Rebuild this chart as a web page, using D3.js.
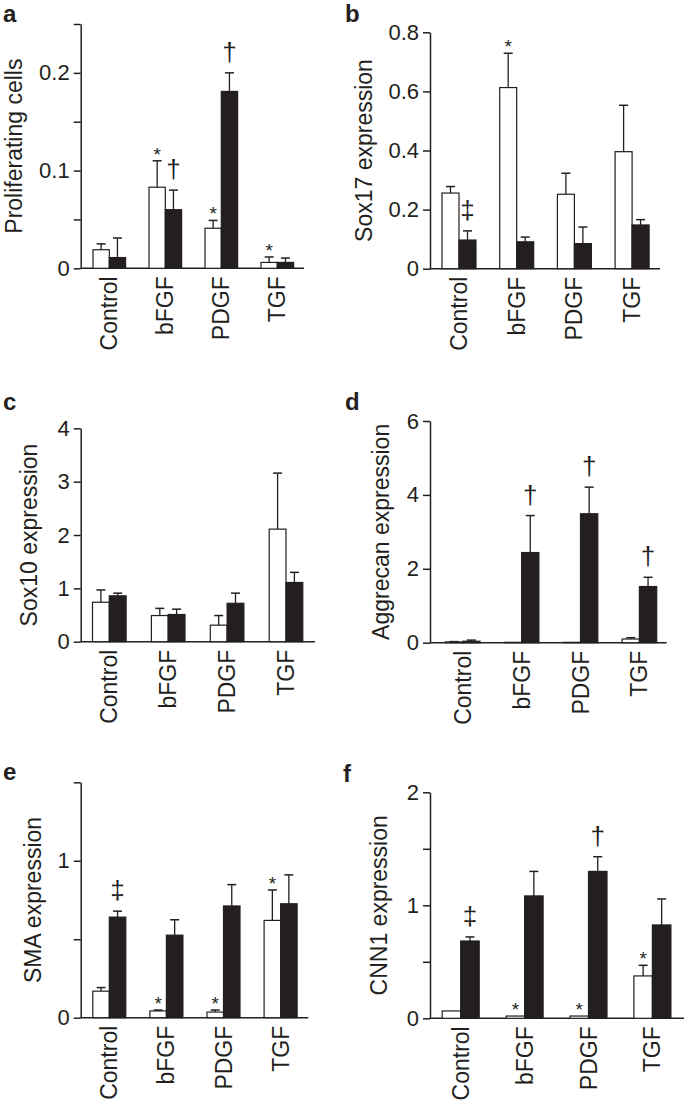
<!DOCTYPE html>
<html><head><meta charset="utf-8">
<script src="https://cdn.jsdelivr.net/npm/d3@7"></script>
<style>
body{margin:0;background:#fff}
svg{display:block}
text{font-family:"Liberation Sans",Arial,Helvetica,sans-serif;fill:#231f20}
</style>
</head><body>
<svg id="chart" width="685" height="1103"></svg>
<script>
// ---------- data ----------
const categories = ["Control", "bFGF", "PDGF", "TGF"];
const seriesNames = ["open", "filled"];

// a: Proliferating cells
const aOpenMean   = [0.019, 0.083, 0.041, 0.006];
const aOpenSE     = [0.006, 0.027, 0.008, 0.0056];
const aFilledMean = [0.011, 0.060, 0.181, 0.006];
const aFilledSE   = [0.020, 0.020, 0.019, 0.0045];
const aTicks  = [0, 0.05, 0.1, 0.15, 0.2, 0.25];
const aLabels = [0, 0.1, 0.2];
const aMarks  = [["bFGF","open","*"],["bFGF","filled","†"],["PDGF","open","*"],["PDGF","filled","†"],["TGF","open","*"]];

// b: Sox17 expression
const bOpenMean   = [0.256, 0.613, 0.252, 0.396];
const bOpenSE     = [0.022, 0.116, 0.071, 0.157];
const bFilledMean = [0.097, 0.091, 0.085, 0.148];
const bFilledSE   = [0.031, 0.016, 0.056, 0.018];
const bTicks  = [0, 0.2, 0.4, 0.6, 0.8];
const bLabels = [0, 0.2, 0.4, 0.6, 0.8];
const bMarks  = [["Control","filled","‡"],["bFGF","open","*"]];

// c: Sox10 expression
const cOpenMean   = [0.74, 0.49, 0.31, 2.11];
const cOpenSE     = [0.23, 0.135, 0.18, 1.05];
const cFilledMean = [0.86, 0.51, 0.72, 1.11];
const cFilledSE   = [0.05, 0.10, 0.19, 0.19];
const cTicks  = [0, 1, 2, 3, 4];
const cLabels = [0, 1, 2, 3, 4];
const cMarks  = [];

// d: Aggrecan expression
const dOpenMean   = [0.02, 0.01, 0.01, 0.10];
const dOpenSE     = [0.01, 0, 0, 0.035];
const dFilledMean = [0.04, 2.44, 3.49, 1.52];
const dFilledSE   = [0.03, 1.00, 0.72, 0.25];
const dTicks  = [0, 2, 4, 6];
const dLabels = [0, 2, 4, 6];
const dMarks  = [["bFGF","filled","†"],["PDGF","filled","†"],["TGF","filled","†"]];

// e: SMA expression
const eOpenMean   = [0.169, 0.043, 0.036, 0.62];
const eOpenSE     = [0.023, 0.006, 0.013, 0.194];
const eFilledMean = [0.641, 0.526, 0.712, 0.726];
const eFilledSE   = [0.038, 0.098, 0.136, 0.184];
const eTicks  = [0, 0.5, 1, 1.5];
const eLabels = [0, 1];
const eMarks  = [["Control","filled","‡"],["bFGF","open","*"],["PDGF","open","*"],["TGF","open","*"]];

// f: CNN1 expression
const fOpenMean   = [0.065, 0.02, 0.02, 0.375];
const fOpenSE     = [0, 0, 0, 0.094];
const fFilledMean = [0.684, 1.083, 1.30, 0.826];
const fFilledSE   = [0.036, 0.217, 0.13, 0.23];
const fTicks  = [0, 0.5, 1, 1.5, 2];
const fLabels = [0, 1, 2];
const fMarks  = [["Control","filled","‡"],["bFGF","open","*"],["PDGF","open","*"],["PDGF","filled","†"],["TGF","open","*"]];

// ---------- layout ----------
const panels = [
  {letter:"a", title:"Proliferating cells", yMax:0.25, ticks:aTicks, labels:aLabels, open:[aOpenMean,aOpenSE], filled:[aFilledMean,aFilledSE], marks:aMarks,
   x0:80.7, x1:304, top:24, base:268.3, c0:109.3, step:56, bw:16.3, titleDx:-66.7, lx:3, ly:22},
  {letter:"b", title:"Sox17 expression", yMax:0.8, ticks:bTicks, labels:bLabels, open:[bOpenMean,bOpenSE], filled:[bFilledMean,bFilledSE], marks:bMarks,
   x0:430, x1:660, top:32.3, base:268.7, c0:459, step:57.7, bw:17, titleDx:-66, lx:345, ly:22},
  {letter:"c", title:"Sox10 expression", yMax:4, ticks:cTicks, labels:cLabels, open:[cOpenMean,cOpenSE], filled:[cFilledMean,cFilledSE], marks:cMarks,
   x0:80.7, x1:315, top:428.3, base:641.7, c0:109.3, step:58.9, bw:16.8, titleDx:-51.7, lx:3, ly:410},
  {letter:"d", title:"Aggrecan expression", yMax:6, ticks:dTicks, labels:dLabels, open:[dOpenMean,dOpenSE], filled:[dFilledMean,dFilledSE], marks:dMarks,
   x0:430, x1:666.7, top:421, base:642.7, c0:462.7, step:58.9, bw:17.3, titleDx:-49, lx:345, ly:410},
  {letter:"e", title:"SMA expression", yMax:1.5, ticks:eTicks, labels:eLabels, open:[eOpenMean,eOpenSE], filled:[eFilledMean,eFilledSE], marks:eMarks,
   x0:80.7, x1:308.3, top:782.3, base:1017.7, c0:109.3, step:57.1, bw:16.5, titleDx:-47.7, lx:3, ly:780},
  {letter:"f", title:"CNN1 expression", yMax:2, ticks:fTicks, labels:fLabels, open:[fOpenMean,fOpenSE], filled:[fFilledMean,fFilledSE], marks:fMarks,
   x0:430, x1:684, top:792.3, base:1018.3, c0:460.7, step:63.9, bw:18.5, titleDx:-51, lx:343, ly:782}
];

const INK = "#231f20";
const svg = d3.select("#chart");

panels.forEach(p => {
  const g = svg.append("g").attr("class", "panel-" + p.letter);
  const y = d3.scaleLinear().domain([0, p.yMax]).range([p.base, p.top]);
  const pad = 1 - 2 * p.bw / p.step;
  const x = d3.scaleBand().domain(categories)
    .range([p.c0 - p.step / 2, p.c0 + 3.5 * p.step])
    .paddingInner(pad).paddingOuter(pad / 2);
  const xs = d3.scaleBand().domain(seriesNames).range([0, x.bandwidth()]);

  // y axis
  const axis = d3.axisLeft(y).tickValues(p.ticks).tickSize(7).tickSizeOuter(0).tickPadding(4)
    .tickFormat(v => p.labels.includes(v) ? (v === 0 ? "0" : String(v)) : "");
  const ga = g.append("g").attr("transform", `translate(${p.x0},0)`).call(axis);
  ga.select(".domain").attr("stroke", INK).attr("stroke-width", 1.5);
  ga.selectAll(".tick line").attr("stroke", INK).attr("stroke-width", 1.5);
  ga.selectAll(".tick text").attr("font-size", 22).attr("fill", INK)
    .style("font-family", '"Liberation Sans",Arial,Helvetica,sans-serif');

  // x axis baseline
  g.append("line").attr("x1", p.x0).attr("x2", p.x1).attr("y1", p.base).attr("y2", p.base)
    .attr("stroke", INK).attr("stroke-width", 1.5);

  // x labels
  g.selectAll("text.xl").data(categories).join("text").attr("class", "xl")
    .attr("transform", d => `translate(${x(d) + x.bandwidth() / 2},${p.base + 8}) rotate(-90)`)
    .attr("text-anchor", "end").attr("dy", "0.35em").attr("font-size", 23).text(d => d);

  // y title
  g.append("text")
    .attr("transform", `translate(${p.x0 + p.titleDx},${(p.top + p.base) / 2}) rotate(-90)`)
    .attr("text-anchor", "middle").attr("dy", "0.35em").attr("font-size", 23).text(p.title);

  // panel letter
  g.append("text").attr("x", p.lx).attr("y", p.ly).attr("font-size", 24).attr("font-weight", "bold").text(p.letter);

  // bars
  const rows = [];
  seriesNames.forEach(s => {
    const [mean, se] = p[s];
    categories.forEach((c, i) => rows.push({c, s, v: mean[i], e: se[i]}));
  });
  const cx = d => x(d.c) + xs(d.s) + xs.bandwidth() / 2;

  g.selectAll("rect.bar").data(rows).join("rect").attr("class", "bar")
    .attr("x", d => x(d.c) + xs(d.s)).attr("width", xs.bandwidth())
    .attr("y", d => y(d.v)).attr("height", d => p.base - y(d.v))
    .attr("fill", d => d.s === "open" ? "#fff" : INK)
    .attr("stroke", INK).attr("stroke-width", 1.2);

  // error bars (upper only)
  const eb = rows.filter(d => d.e > 0);
  g.selectAll("line.ev").data(eb).join("line").attr("class", "ev")
    .attr("x1", cx).attr("x2", cx).attr("y1", d => y(d.v)).attr("y2", d => y(d.v + d.e))
    .attr("stroke", INK).attr("stroke-width", 1.3);
  g.selectAll("line.ec").data(eb).join("line").attr("class", "ec")
    .attr("x1", d => cx(d) - 4.5).attr("x2", d => cx(d) + 4.5)
    .attr("y1", d => y(d.v + d.e)).attr("y2", d => y(d.v + d.e))
    .attr("stroke", INK).attr("stroke-width", 1.5);

  // significance marks
  const marks = p.marks.map(([c, s, sym]) => {
    const r = rows.find(d => d.c === c && d.s === s);
    return {c, s, sym, top: y(r.v + r.e)};
  });
  g.selectAll("text.mk").data(marks).join("text").attr("class", "mk")
    .attr("x", cx).attr("text-anchor", "middle")
    .attr("y", d => d.sym === "*" ? d.top : d.top - 12)
    .attr("font-size", d => d.sym === "*" ? 19 : 26)
    .text(d => d.sym);
});
</script>
</body></html>
